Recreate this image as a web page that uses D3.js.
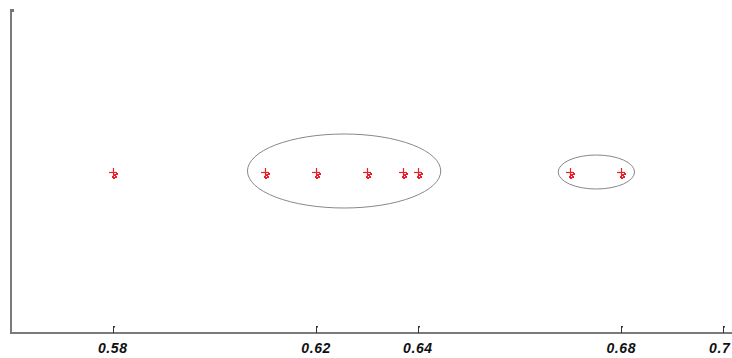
<!DOCTYPE html>
<html>
<head>
<meta charset="utf-8">
<script src="https://cdn.jsdelivr.net/npm/d3@7"></script>
<style>
  html, body { margin: 0; padding: 0; background: #fff; }
  svg { display: block; }
  .tick-label { font-family: "Liberation Sans", Arial, sans-serif; font-weight: bold; font-style: italic; font-size: 14px; letter-spacing: 0.6px; fill: #111; }
</style>
</head>
<body>
<svg id="chart" width="732" height="358"></svg>
<script>
// Observed values along the single axis
const pointValues = [0.58, 0.61, 0.62, 0.63, 0.637, 0.64, 0.67, 0.68];
// Tick labels shown under the axis
const tickValues = [0.58, 0.62, 0.64, 0.68, 0.7];
const tickLabels = ["0.58", "0.62", "0.64", "0.68", "0.7"];
// Groups circled by ellipses: [from, to] in data units
const clusterStarts = [0.61, 0.67];
const clusterEnds = [0.64, 0.68];

const svg = d3.select("#chart");
const W = 732, H = 358;
const left = 11, axisY = 333, rowY = 172;

const x = d3.scaleLinear().domain([0.56, 0.7]).range([left, 723]);
const y = d3.scaleLinear().domain([0, 1]).range([axisY, 10]);

// Axes lines
svg.append("line").attr("x1", left).attr("x2", left).attr("y1", y(1)).attr("y2", axisY)
  .attr("stroke", "#7a7a7a").attr("stroke-width", 2);
svg.append("rect").attr("x", left - 1).attr("y", y(1) - 1).attr("width", 4).attr("height", 3).attr("fill", "#777");
svg.append("line").attr("x1", left - 1).attr("x2", W).attr("y1", axisY).attr("y2", axisY)
  .attr("stroke", "#7a7a7a").attr("stroke-width", 2);

// Ticks and labels (labels kept inside the drawing area)
const ticks = svg.append("g");
tickValues.forEach((v, i) => {
  const tx = Math.round(x(v)) + 0.5;
  ticks.append("line").attr("x1", tx).attr("x2", tx).attr("y1", axisY - 6).attr("y2", axisY)
    .attr("stroke", "#333").attr("stroke-width", 1);
  ticks.append("rect").attr("x", tx - 0.5).attr("y", axisY - 7).attr("width", 2).attr("height", 1.5).attr("fill", "#333");
  const label = ticks.append("text").attr("class", "tick-label").attr("x", x(v)).attr("y", 353)
    .attr("text-anchor", "middle").text(tickLabels[i]);
  const bb = label.node().getBBox();
  if (bb.x + bb.width > W - 1) label.attr("x", x(v) - (bb.x + bb.width - (W - 1)));
});

// Ellipses around clusters
clusterStarts.forEach((s, i) => {
  const e = clusterEnds[i];
  const x0 = x(s - (i === 0 ? 0.0035 : 0.0024)), x1 = x(e + (i === 0 ? 0.0045 : 0.0026));
  svg.append("ellipse")
    .attr("cx", (x0 + x1) / 2).attr("cy", rowY - (i === 0 ? 1 : 0))
    .attr("rx", (x1 - x0) / 2).attr("ry", i === 0 ? 37 : 17)
    .attr("fill", "none").attr("stroke", "#888").attr("stroke-width", 1);
});

// Point markers: a small red cross with a few dots beneath
const marks = svg.append("g").attr("fill", "#e8202a").attr("stroke", "#e8202a");
pointValues.forEach(v => {
  const cx = Math.round(x(v));
  const g = marks.append("g").attr("transform", `translate(${cx},${rowY})`);
  g.append("line").attr("x1", -4).attr("x2", 4).attr("y1", 0.5).attr("y2", 0.5).attr("stroke-width", 1.2);
  g.append("line").attr("x1", 0.5).attr("x2", 0.5).attr("y1", -4).attr("y2", 4).attr("stroke-width", 1.2);
  [[1, 2], [3, 1], [-1, 4], [2, 4], [0, 5]].forEach(([dx, dy]) => {
    g.append("rect").attr("x", dx).attr("y", dy).attr("width", 2).attr("height", 2).attr("stroke", "none");
  });
});
</script>
</body>
</html>
